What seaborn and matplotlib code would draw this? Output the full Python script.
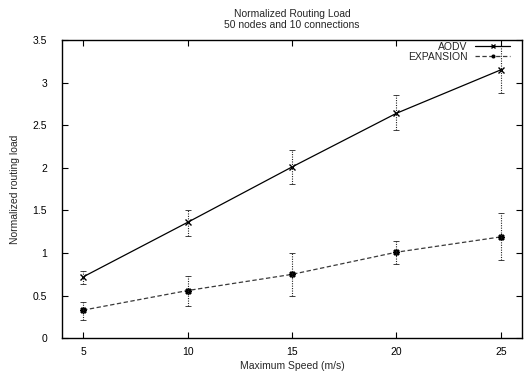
import matplotlib
matplotlib.use("Agg")
import matplotlib.pyplot as plt
import seaborn as sns
import pandas as pd
from matplotlib.ticker import FuncFormatter

speeds = [5, 10, 15, 20, 25]
aodv = [0.72, 1.36, 2.01, 2.64, 3.15]
aodv_low = [0.64, 1.20, 1.81, 2.44, 2.88]
aodv_high = [0.79, 1.51, 2.21, 2.85, 3.43]
expansion = [0.33, 0.56, 0.75, 1.01, 1.19]
exp_low = [0.22, 0.38, 0.50, 0.87, 0.92]
exp_high = [0.43, 0.73, 1.00, 1.14, 1.47]

sns.set_theme(style="ticks")
plt.rcParams['font.family'] = ['Liberation Sans', 'DejaVu Sans']
FS = 7.5
plt.rcParams['font.size'] = FS

df = pd.DataFrame({
    "speed": speeds * 2,
    "load": aodv + expansion,
    "series": ["AODV"] * 5 + ["EXPANSION"] * 5,
})

fig = plt.figure(figsize=(5.27, 3.74), dpi=100)
ax = fig.add_axes([0.118, 0.0955, 0.872, 0.7975])

sns.lineplot(data=df[df.series == "AODV"], x="speed", y="load", ax=ax,
             color="black", linewidth=0.9, label="AODV")
sns.lineplot(data=df[df.series == "EXPANSION"], x="speed", y="load", ax=ax,
             color="#3a3a3a", linewidth=0.9, linestyle=(0, (3.5, 2)),
             label="EXPANSION")
l_aodv, l_exp = ax.get_lines()[:2]
l_aodv.set_marker("x")
l_aodv.set_markersize(5)
l_aodv.set_markeredgewidth(1.0)
l_aodv.set_markeredgecolor("black")
l_exp.set_marker((8, 2, 0))
l_exp.set_markersize(5)
l_exp.set_markeredgewidth(1.1)
l_exp.set_markeredgecolor("black")

for vals, lo, hi in [(aodv, aodv_low, aodv_high), (expansion, exp_low, exp_high)]:
    yerr = [[v - l for v, l in zip(vals, lo)], [h - v for v, h in zip(vals, hi)]]
    eb = ax.errorbar(speeds, vals, yerr=yerr, fmt="none", ecolor="#222222",
                     elinewidth=0.8, capsize=2, capthick=0.6)
    eb[2][0].set_linestyle((0, (1, 1.2)))

ax.set_xlim(4, 26)
ax.set_ylim(0, 3.5)
ax.set_xticks(speeds)
ax.set_yticks([0, 0.5, 1, 1.5, 2, 2.5, 3, 3.5])
ax.yaxis.set_major_formatter(FuncFormatter(lambda v, p: "%g" % v))
ax.tick_params(direction="in", length=4, width=0.8, top=True, right=True,
               labelsize=FS, colors="black")
ax.tick_params(axis="y", pad=11)
ax.tick_params(axis="x", pad=6)
for s in ax.spines.values():
    s.set_visible(True)
    s.set_color("black")
    s.set_linewidth(1.0)

ax.set_xlabel("Maximum Speed (m/s)", fontsize=FS, labelpad=3)
ax.set_ylabel("Normalized routing load", fontsize=FS, labelpad=9)
ax.set_title("Normalized Routing Load\n50 nodes and 10 connections",
             fontsize=FS, pad=9, linespacing=1.05)

leg = ax.legend(loc="upper right", frameon=False, markerfirst=False,
                fontsize=FS, handlelength=3.3, handletextpad=0.75,
                labelspacing=0.0, borderaxespad=0, borderpad=0,
                markerscale=0.5, bbox_to_anchor=(1 - 12 / 460, 0.995))

fig.savefig("out.png", dpi=100)
